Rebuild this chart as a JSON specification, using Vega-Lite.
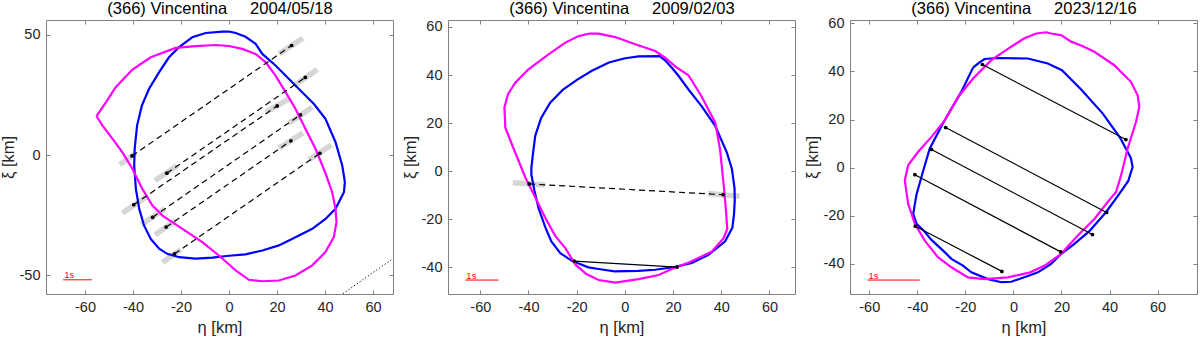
{
  "$schema": "https://vega.github.io/schema/vega-lite/v6.json",
  "padding": {"left": 0, "top": -1, "right": 0, "bottom": 0},
  "background": "white",
  "spacing": 55,
  "bounds": "flush",
  "config": {
    "view": {"stroke": "#808080", "strokeWidth": 1},
    "font": "Liberation Sans",
    "axis": {
      "grid": false, "domain": false, "tickColor": "#808080", "tickSize": -4,
      "labelFontSize": 14.5, "labelColor": "#262626", "labelFont": "Liberation Sans", "labelPadding": 10,
      "titleFontSize": 16.5, "titleFontWeight": "normal", "titleColor": "#262626", "titleFont": "Liberation Sans",
      "labelExpr": "datum.value < 0 ? '-' + abs(datum.value) : '' + datum.value"
    },
    "axisBottom": {"titlePadding": 6},
    "axisLeft": {"titlePadding": 2.5},
    "axisTop": {"titlePadding": 6.5, "titleColor": "#000000", "titleBaseline": "alphabetic", "titleFontSize": 16.5}
  },
  "datasets": {
    "b1": [
      {"x":0,"y":51.4},{"x":2.8,"y":50.8},{"x":6.9,"y":49.2},{"x":11.1,"y":46.3},{"x":13.9,"y":42.1},{"x":19.4,"y":37.3},{"x":25,"y":31.7},{"x":30.5,"y":26.2},{"x":35.4,"y":21.3},{"x":40.2,"y":15.1},{"x":44.4,"y":5.4},{"x":47.2,"y":-4.3},{"x":48.3,"y":-11.2},{"x":47.9,"y":-15.4},{"x":44.4,"y":-22.3},{"x":40.2,"y":-26.5},{"x":34.7,"y":-30.6},{"x":27.7,"y":-34.1},{"x":20.8,"y":-37.5},{"x":13.9,"y":-39.6},{"x":6.9,"y":-41.2},{"x":0,"y":-41.8},{"x":-6.9,"y":-42.6},{"x":-13.9,"y":-43},{"x":-20.8,"y":-42.4},{"x":-25.7,"y":-41},{"x":-29.1,"y":-38.9},{"x":-32.6,"y":-34.8},{"x":-35.4,"y":-29.2},{"x":-37.4,"y":-22.3},{"x":-38.8,"y":-14},{"x":-39.5,"y":-4.3},{"x":-39.3,"y":2.6},{"x":-38.3,"y":12.3},{"x":-36.3,"y":20.6},{"x":-33.3,"y":27.6},{"x":-29.1,"y":34.5},{"x":-25,"y":40.7},{"x":-20.8,"y":44.9},{"x":-15.3,"y":49},{"x":-9.7,"y":50.8},{"x":-2.8,"y":51.4},{"x":0,"y":51.4}
    ],
    "m1": [
      {"x":-55.2,"y":16.2},{"x":-51.3,"y":22},{"x":-47.2,"y":28.3},{"x":-40.2,"y":35.6},{"x":-32.6,"y":40.7},{"x":-22.2,"y":44.6},{"x":-13.9,"y":45.3},{"x":-5.5,"y":45.8},{"x":0,"y":45.4},{"x":5.5,"y":44.2},{"x":11.1,"y":42.1},{"x":15.3,"y":38.6},{"x":19.4,"y":33.1},{"x":23.6,"y":26.2},{"x":27.7,"y":19.3},{"x":31.9,"y":10.9},{"x":36.1,"y":2.6},{"x":40.2,"y":-7.5},{"x":43,"y":-15.4},{"x":44.4,"y":-22.3},{"x":44.8,"y":-27.8},{"x":43.7,"y":-34},{"x":40.2,"y":-40.3},{"x":34.7,"y":-45.8},{"x":27.7,"y":-50},{"x":20.8,"y":-52.1},{"x":13.9,"y":-52.4},{"x":8.3,"y":-51.8},{"x":2.8,"y":-47.9},{"x":-4.2,"y":-41.7},{"x":-11.1,"y":-36.1},{"x":-19.4,"y":-30.6},{"x":-27.7,"y":-25.1},{"x":-31.9,"y":-20.9},{"x":-36.1,"y":-14},{"x":-40.2,"y":-5.7},{"x":-44.4,"y":1.2},{"x":-48.5,"y":6.8},{"x":-52.7,"y":12.3},{"x":-55.2,"y":16.2}
    ],
    "c1": [
      {"x":-40.4,"y":-0.3,"x2":26.1,"y2":45.6,"d":1},
      {"x":-25.9,"y":-7.5,"x2":31.8,"y2":32.3,"d":1},
      {"x":-39.7,"y":-20.6,"x2":20.1,"y2":20.5,"d":1},
      {"x":-31.8,"y":-25.8,"x2":29.8,"y2":16.8,"d":1},
      {"x":-26.2,"y":-29.9,"x2":25.8,"y2":6.0,"d":1},
      {"x":-22.7,"y":-41.0,"x2":37.9,"y2":0.8,"d":1}
    ],
    "g1": [
      {"x":-45.5,"y":-3.9,"x2":-38.8,"y2":0.8},
      {"x":20.8,"y":42.1,"x2":30.8,"y2":48.6},
      {"x":-30.8,"y":-10.5,"x2":-21.5,"y2":-4.3},
      {"x":27,"y":28.9,"x2":36.8,"y2":35.6},
      {"x":-44.4,"y":-24,"x2":-34.7,"y2":-17.5},
      {"x":15.3,"y":17.9,"x2":25,"y2":23.4},
      {"x":-36.5,"y":-28.9,"x2":-26.8,"y2":-22.3},
      {"x":25,"y":13.4,"x2":34.7,"y2":19.9},
      {"x":-30.8,"y":-33.1,"x2":-22.2,"y2":-27.1},
      {"x":20.8,"y":2.9,"x2":30.8,"y2":9.3},
      {"x":-27.7,"y":-44.5,"x2":-20.1,"y2":-39.3},
      {"x":33.3,"y":-1.9,"x2":42.7,"y2":4.3}
    ],
    "s1": [{"x":-69.1,"x2":-57.1,"y":-51.8,"t":"1s"}],
    "dt1": [{"x":44,"y":-60,"x2":72,"y2":-40.4}],
    "b2": [
      {"x":0.1,"y":47},{"x":5.7,"y":47.8},{"x":14.5,"y":47.9},{"x":16.7,"y":46.1},{"x":19.5,"y":43},{"x":22.3,"y":39.6},{"x":26.4,"y":34},{"x":31.9,"y":27},{"x":37.5,"y":18.8},{"x":42.3,"y":7.8},{"x":44.4,"y":1},{"x":45.5,"y":-7},{"x":45.6,"y":-12},{"x":45.3,"y":-17.9},{"x":44.6,"y":-23.5},{"x":41.6,"y":-29.2},{"x":34.7,"y":-34.8},{"x":27.8,"y":-38.2},{"x":20.9,"y":-39.8},{"x":12.6,"y":-41},{"x":5.7,"y":-41.5},{"x":-4.3,"y":-41.7},{"x":-10.9,"y":-40.7},{"x":-15.1,"y":-40},{"x":-19.2,"y":-38.4},{"x":-22,"y":-37.3},{"x":-26.8,"y":-34.1},{"x":-30.5,"y":-29.2},{"x":-33,"y":-23.4},{"x":-35.8,"y":-15.5},{"x":-37.5,"y":-8.2},{"x":-38.8,"y":-1.5},{"x":-38.8,"y":1.5},{"x":-38.3,"y":6},{"x":-37.2,"y":14.7},{"x":-34.8,"y":22},{"x":-31,"y":28.5},{"x":-25.8,"y":33.8},{"x":-19.9,"y":38},{"x":-13.7,"y":41.8},{"x":-6.6,"y":45.2},{"x":0.1,"y":47}
    ],
    "m2": [
      {"x":-15.1,"y":57.2},{"x":-10.9,"y":57.2},{"x":-4,"y":55.8},{"x":4.3,"y":52.8},{"x":12.6,"y":50},{"x":16.7,"y":47.2},{"x":21,"y":43.5},{"x":26.4,"y":39.9},{"x":31.9,"y":31},{"x":37.5,"y":20.2},{"x":39.5,"y":9},{"x":40.9,"y":-4.7},{"x":41.9,"y":-15.8},{"x":42.5,"y":-24},{"x":40.9,"y":-28},{"x":36,"y":-33.5},{"x":33.3,"y":-34.8},{"x":27,"y":-37.8},{"x":19.5,"y":-40.7},{"x":14,"y":-43.2},{"x":5.7,"y":-44.9},{"x":-4,"y":-46.4},{"x":-10.9,"y":-45.3},{"x":-16,"y":-42.8},{"x":-20.6,"y":-38.8},{"x":-24.7,"y":-32},{"x":-28.9,"y":-26.9},{"x":-33,"y":-19.5},{"x":-38.6,"y":-8},{"x":-41.3,"y":-2.6},{"x":-46.9,"y":11.2},{"x":-49.6,"y":18.1},{"x":-50,"y":26.5},{"x":-48.5,"y":32},{"x":-45.5,"y":36.8},{"x":-40,"y":42.4},{"x":-31.7,"y":48.6},{"x":-24.7,"y":53.5},{"x":-19.2,"y":56.2},{"x":-15.1,"y":57.2}
    ],
    "c2": [
      {"x":-39.7,"y":-5.3,"x2":40.8,"y2":-9.8,"d":1},
      {"x":-21,"y":-37.4,"x2":21.7,"y2":-39.9,"d":0}
    ],
    "g2": [
      {"x":-46.5,"y":-4.8,"x2":-33,"y2":-5.7},
      {"x":34.4,"y":-9.3,"x2":47.6,"y2":-10.4}
    ],
    "s2": [{"x":-66.2,"x2":-52.4,"y":-45.3,"t":"1s"}],
    "b3": [
      {"x":-16.8,"y":41.6},{"x":-14.5,"y":43.5},{"x":-12,"y":45.2},{"x":-6.4,"y":45.6},{"x":6,"y":45.4},{"x":14.3,"y":43.3},{"x":20.2,"y":40.5},{"x":28.2,"y":32.5},{"x":37.2,"y":22.5},{"x":44.5,"y":12.3},{"x":48.9,"y":4},{"x":49.6,"y":0.3},{"x":47.8,"y":-5.5},{"x":43.4,"y":-11.8},{"x":38.5,"y":-18.5},{"x":31.5,"y":-26.5},{"x":25,"y":-32},{"x":19.9,"y":-35.8},{"x":15.7,"y":-40},{"x":10.2,"y":-43.5},{"x":6,"y":-45},{"x":-0.9,"y":-47.4},{"x":-5,"y":-47.6},{"x":-10.6,"y":-46.3},{"x":-17.5,"y":-43.5},{"x":-21,"y":-40.7},{"x":-25.8,"y":-37.9},{"x":-28.6,"y":-35.1},{"x":-34.1,"y":-30},{"x":-37,"y":-26.5},{"x":-40.3,"y":-23.3},{"x":-41.7,"y":-19.2},{"x":-40.3,"y":-11},{"x":-37.6,"y":-1.5},{"x":-34.8,"y":8},{"x":-29.3,"y":18.5},{"x":-21.7,"y":31.5},{"x":-16.8,"y":41.6}
    ],
    "m3": [
      {"x":9.5,"y":55.8},{"x":13.6,"y":56.3},{"x":15.7,"y":55.8},{"x":20,"y":55},{"x":24,"y":52.4},{"x":28.2,"y":50.8},{"x":33.7,"y":48.2},{"x":42,"y":42.6},{"x":48.9,"y":35.7},{"x":51.7,"y":30.1},{"x":52.4,"y":25.3},{"x":51,"y":19},{"x":47.5,"y":7.9},{"x":44.8,"y":-3.2},{"x":42.7,"y":-10.1},{"x":39.2,"y":-14.3},{"x":33.7,"y":-21.3},{"x":26.8,"y":-28.2},{"x":19.9,"y":-35.8},{"x":13,"y":-40.7},{"x":7,"y":-43.5},{"x":-2.3,"y":-45.6},{"x":-12,"y":-46.3},{"x":-18.9,"y":-45.6},{"x":-25.8,"y":-41.4},{"x":-31.4,"y":-37.2},{"x":-36.9,"y":-30.3},{"x":-41,"y":-23.3},{"x":-43.8,"y":-15},{"x":-45.2,"y":-5.3},{"x":-43.8,"y":1},{"x":-39.7,"y":6.5},{"x":-34.1,"y":12.8},{"x":-28.6,"y":19.7},{"x":-23,"y":29.4},{"x":-16.8,"y":37.1},{"x":-9.2,"y":44.7},{"x":-0.9,"y":50.3},{"x":4.6,"y":53.8},{"x":9.5,"y":55.8}
    ],
    "c3": [
      {"x":-12.9,"y":42.9,"x2":46.8,"y2":11.7,"d":0},
      {"x":-28.2,"y":16.7,"x2":38.8,"y2":-18.6,"d":0},
      {"x":-34.1,"y":7.6,"x2":32.9,"y2":-27.8,"d":0},
      {"x":-41,"y":-2.9,"x2":19.7,"y2":-35,"d":0},
      {"x":-40.8,"y":-24.3,"x2":-4.8,"y2":-43.1,"d":0}
    ],
    "s3": [{"x":-60.7,"x2":-39,"y":-46.7,"t":"1s"}]
  },
  "hconcat": [
    {
      "width": 347, "height": 274,
      "resolve": {"axis": {"x": "independent", "y": "independent"}},
      "layer": [
        {"data": {"name": "g1"}, "mark": {"type": "rule", "color": "#d6d6d6", "strokeWidth": 5.5, "clip": true},
         "encoding": {"x": {"field": "x", "type": "quantitative", "scale": {"domain": [-76.25, 68.35], "nice": false, "zero": false}, "axis": null},
                      "y": {"field": "y", "type": "quantitative", "scale": {"domain": [-57.7, 56.2], "nice": false, "zero": false}, "axis": null},
                      "x2": {"field": "x2"}, "y2": {"field": "y2"}}},
        {"data": {"name": "b1"}, "mark": {"type": "line", "color": "#0000ff", "strokeWidth": 2.2, "clip": true},
         "encoding": {"x": {"field": "x", "type": "quantitative", "scale": {"domain": [-76.25, 68.35], "nice": false, "zero": false}, "axis": {"orient": "bottom", "values": [-60,-40,-20,0,20,40,60], "title": "η [km]"}},
                      "y": {"field": "y", "type": "quantitative", "scale": {"domain": [-57.7, 56.2], "nice": false, "zero": false}, "axis": {"orient": "left", "values": [-50,0,50], "title": "ξ [km]"}},
                      "order": {"value": null}}},
        {"data": {"name": "m1"}, "mark": {"type": "line", "color": "#ff00ff", "strokeWidth": 2.2, "clip": true},
         "encoding": {"x": {"field": "x", "type": "quantitative", "scale": {"domain": [-76.25, 68.35], "nice": false, "zero": false}, "axis": {"orient": "top", "values": [-60,-40,-20,0,20,40,60], "labels": false, "title": "(366) Vincentina\u00a0\u00a0\u00a0\u00a0\u00a02004/05/18"}},
                      "y": {"field": "y", "type": "quantitative", "scale": {"domain": [-57.7, 56.2], "nice": false, "zero": false}, "axis": {"orient": "right", "values": [-50,0,50], "labels": false, "title": null}},
                      "order": {"value": null}}},
        {"data": {"name": "c1"}, "mark": {"type": "rule", "color": "#000000", "strokeWidth": 1.2, "strokeDash": [6, 4], "clip": true},
         "encoding": {"x": {"field": "x", "type": "quantitative", "scale": {"domain": [-76.25, 68.35], "nice": false, "zero": false}, "axis": null},
                      "y": {"field": "y", "type": "quantitative", "scale": {"domain": [-57.7, 56.2], "nice": false, "zero": false}, "axis": null},
                      "x2": {"field": "x2"}, "y2": {"field": "y2"}}},
        {"data": {"name": "c1"}, "mark": {"type": "point", "filled": true, "color": "#000000", "size": 14, "opacity": 1},
         "encoding": {"x": {"field": "x", "type": "quantitative", "scale": {"domain": [-76.25, 68.35], "nice": false, "zero": false}, "axis": null},
                      "y": {"field": "y", "type": "quantitative", "scale": {"domain": [-57.7, 56.2], "nice": false, "zero": false}, "axis": null}}},
        {"data": {"name": "c1"}, "mark": {"type": "point", "filled": true, "color": "#000000", "size": 14, "opacity": 1},
         "encoding": {"x": {"field": "x2", "type": "quantitative", "scale": {"domain": [-76.25, 68.35], "nice": false, "zero": false}, "axis": null},
                      "y": {"field": "y2", "type": "quantitative", "scale": {"domain": [-57.7, 56.2], "nice": false, "zero": false}, "axis": null}}},
        {"data": {"name": "dt1"}, "mark": {"type": "rule", "color": "#000000", "strokeWidth": 1, "strokeDash": [1.2, 2.2], "clip": true},
         "encoding": {"x": {"field": "x", "type": "quantitative", "scale": {"domain": [-76.25, 68.35], "nice": false, "zero": false}, "axis": null},
                      "y": {"field": "y", "type": "quantitative", "scale": {"domain": [-57.7, 56.2], "nice": false, "zero": false}, "axis": null},
                      "x2": {"field": "x2"}, "y2": {"field": "y2"}}},
        {"data": {"name": "s1"}, "mark": {"type": "rule", "color": "#ff0000", "strokeWidth": 1},
         "encoding": {"x": {"field": "x", "type": "quantitative", "scale": {"domain": [-76.25, 68.35], "nice": false, "zero": false}, "axis": null},
                      "y": {"field": "y", "type": "quantitative", "scale": {"domain": [-57.7, 56.2], "nice": false, "zero": false}, "axis": null},
                      "x2": {"field": "x2"}}},
        {"data": {"name": "s1"}, "mark": {"type": "text", "color": "#ff0000", "fontSize": 9.5, "align": "left", "baseline": "alphabetic", "dx": 1, "dy": -1.5},
         "encoding": {"x": {"field": "x", "type": "quantitative", "scale": {"domain": [-76.25, 68.35], "nice": false, "zero": false}, "axis": null},
                      "y": {"field": "y", "type": "quantitative", "scale": {"domain": [-57.7, 56.2], "nice": false, "zero": false}, "axis": null},
                      "text": {"field": "t"}}}
      ]
    },
    {
      "width": 347, "height": 274,
      "resolve": {"axis": {"x": "independent", "y": "independent"}},
      "layer": [
        {"data": {"name": "g2"}, "mark": {"type": "rule", "color": "#d6d6d6", "strokeWidth": 5.5, "clip": true},
         "encoding": {"x": {"field": "x", "type": "quantitative", "scale": {"domain": [-73.4, 70.6], "nice": false, "zero": false}, "axis": null},
                      "y": {"field": "y", "type": "quantitative", "scale": {"domain": [-51.1, 62.9], "nice": false, "zero": false}, "axis": null},
                      "x2": {"field": "x2"}, "y2": {"field": "y2"}}},
        {"data": {"name": "b2"}, "mark": {"type": "line", "color": "#0000ff", "strokeWidth": 2.2, "clip": true},
         "encoding": {"x": {"field": "x", "type": "quantitative", "scale": {"domain": [-73.4, 70.6], "nice": false, "zero": false}, "axis": {"orient": "bottom", "values": [-60,-40,-20,0,20,40,60], "title": "η [km]"}},
                      "y": {"field": "y", "type": "quantitative", "scale": {"domain": [-51.1, 62.9], "nice": false, "zero": false}, "axis": {"orient": "left", "values": [-40,-20,0,20,40,60], "title": "ξ [km]"}},
                      "order": {"value": null}}},
        {"data": {"name": "m2"}, "mark": {"type": "line", "color": "#ff00ff", "strokeWidth": 2.2, "clip": true},
         "encoding": {"x": {"field": "x", "type": "quantitative", "scale": {"domain": [-73.4, 70.6], "nice": false, "zero": false}, "axis": {"orient": "top", "values": [-60,-40,-20,0,20,40,60], "labels": false, "title": "(366) Vincentina\u00a0\u00a0\u00a0\u00a0\u00a02009/02/03"}},
                      "y": {"field": "y", "type": "quantitative", "scale": {"domain": [-51.1, 62.9], "nice": false, "zero": false}, "axis": {"orient": "right", "values": [-40,-20,0,20,40,60], "labels": false, "title": null}},
                      "order": {"value": null}}},
        {"data": {"name": "c2"}, "transform": [{"filter": "datum.d == 1"}], "mark": {"type": "rule", "color": "#000000", "strokeWidth": 1.2, "strokeDash": [6, 4], "clip": true},
         "encoding": {"x": {"field": "x", "type": "quantitative", "scale": {"domain": [-73.4, 70.6], "nice": false, "zero": false}, "axis": null},
                      "y": {"field": "y", "type": "quantitative", "scale": {"domain": [-51.1, 62.9], "nice": false, "zero": false}, "axis": null},
                      "x2": {"field": "x2"}, "y2": {"field": "y2"}}},
        {"data": {"name": "c2"}, "transform": [{"filter": "datum.d == 0"}], "mark": {"type": "rule", "color": "#000000", "strokeWidth": 1.2, "clip": true},
         "encoding": {"x": {"field": "x", "type": "quantitative", "scale": {"domain": [-73.4, 70.6], "nice": false, "zero": false}, "axis": null},
                      "y": {"field": "y", "type": "quantitative", "scale": {"domain": [-51.1, 62.9], "nice": false, "zero": false}, "axis": null},
                      "x2": {"field": "x2"}, "y2": {"field": "y2"}}},
        {"data": {"name": "c2"}, "mark": {"type": "point", "filled": true, "color": "#000000", "size": 14, "opacity": 1},
         "encoding": {"x": {"field": "x", "type": "quantitative", "scale": {"domain": [-73.4, 70.6], "nice": false, "zero": false}, "axis": null},
                      "y": {"field": "y", "type": "quantitative", "scale": {"domain": [-51.1, 62.9], "nice": false, "zero": false}, "axis": null}}},
        {"data": {"name": "c2"}, "mark": {"type": "point", "filled": true, "color": "#000000", "size": 14, "opacity": 1},
         "encoding": {"x": {"field": "x2", "type": "quantitative", "scale": {"domain": [-73.4, 70.6], "nice": false, "zero": false}, "axis": null},
                      "y": {"field": "y2", "type": "quantitative", "scale": {"domain": [-51.1, 62.9], "nice": false, "zero": false}, "axis": null}}},
        {"data": {"name": "s2"}, "mark": {"type": "rule", "color": "#ff0000", "strokeWidth": 1},
         "encoding": {"x": {"field": "x", "type": "quantitative", "scale": {"domain": [-73.4, 70.6], "nice": false, "zero": false}, "axis": null},
                      "y": {"field": "y", "type": "quantitative", "scale": {"domain": [-51.1, 62.9], "nice": false, "zero": false}, "axis": null},
                      "x2": {"field": "x2"}}},
        {"data": {"name": "s2"}, "mark": {"type": "text", "color": "#ff0000", "fontSize": 9.5, "align": "left", "baseline": "alphabetic", "dx": 1, "dy": -1.5},
         "encoding": {"x": {"field": "x", "type": "quantitative", "scale": {"domain": [-73.4, 70.6], "nice": false, "zero": false}, "axis": null},
                      "y": {"field": "y", "type": "quantitative", "scale": {"domain": [-51.1, 62.9], "nice": false, "zero": false}, "axis": null},
                      "text": {"field": "t"}}}
      ]
    },
    {
      "width": 347, "height": 274,
      "resolve": {"axis": {"x": "independent", "y": "independent"}},
      "layer": [
        {"data": {"name": "b3"}, "mark": {"type": "line", "color": "#0000ff", "strokeWidth": 2.2, "clip": true},
         "encoding": {"x": {"field": "x", "type": "quantitative", "scale": {"domain": [-68, 76.4], "nice": false, "zero": false}, "axis": {"orient": "bottom", "values": [-60,-40,-20,0,20,40,60], "title": "η [km]"}},
                      "y": {"field": "y", "type": "quantitative", "scale": {"domain": [-52.5, 61.4], "nice": false, "zero": false}, "axis": {"orient": "left", "values": [-40,-20,0,20,40,60], "title": "ξ [km]"}},
                      "order": {"value": null}}},
        {"data": {"name": "m3"}, "mark": {"type": "line", "color": "#ff00ff", "strokeWidth": 2.2, "clip": true},
         "encoding": {"x": {"field": "x", "type": "quantitative", "scale": {"domain": [-68, 76.4], "nice": false, "zero": false}, "axis": {"orient": "top", "values": [-60,-40,-20,0,20,40,60], "labels": false, "title": "(366) Vincentina\u00a0\u00a0\u00a0\u00a0\u00a02023/12/16"}},
                      "y": {"field": "y", "type": "quantitative", "scale": {"domain": [-52.5, 61.4], "nice": false, "zero": false}, "axis": {"orient": "right", "values": [-40,-20,0,20,40,60], "labels": false, "title": null}},
                      "order": {"value": null}}},
        {"data": {"name": "c3"}, "mark": {"type": "rule", "color": "#000000", "strokeWidth": 1.2, "clip": true},
         "encoding": {"x": {"field": "x", "type": "quantitative", "scale": {"domain": [-68, 76.4], "nice": false, "zero": false}, "axis": null},
                      "y": {"field": "y", "type": "quantitative", "scale": {"domain": [-52.5, 61.4], "nice": false, "zero": false}, "axis": null},
                      "x2": {"field": "x2"}, "y2": {"field": "y2"}}},
        {"data": {"name": "c3"}, "mark": {"type": "point", "filled": true, "color": "#000000", "size": 14, "opacity": 1},
         "encoding": {"x": {"field": "x", "type": "quantitative", "scale": {"domain": [-68, 76.4], "nice": false, "zero": false}, "axis": null},
                      "y": {"field": "y", "type": "quantitative", "scale": {"domain": [-52.5, 61.4], "nice": false, "zero": false}, "axis": null}}},
        {"data": {"name": "c3"}, "mark": {"type": "point", "filled": true, "color": "#000000", "size": 14, "opacity": 1},
         "encoding": {"x": {"field": "x2", "type": "quantitative", "scale": {"domain": [-68, 76.4], "nice": false, "zero": false}, "axis": null},
                      "y": {"field": "y2", "type": "quantitative", "scale": {"domain": [-52.5, 61.4], "nice": false, "zero": false}, "axis": null}}},
        {"data": {"name": "s3"}, "mark": {"type": "rule", "color": "#ff0000", "strokeWidth": 1},
         "encoding": {"x": {"field": "x", "type": "quantitative", "scale": {"domain": [-68, 76.4], "nice": false, "zero": false}, "axis": null},
                      "y": {"field": "y", "type": "quantitative", "scale": {"domain": [-52.5, 61.4], "nice": false, "zero": false}, "axis": null},
                      "x2": {"field": "x2"}}},
        {"data": {"name": "s3"}, "mark": {"type": "text", "color": "#ff0000", "fontSize": 9.5, "align": "left", "baseline": "alphabetic", "dx": 1, "dy": -1.5},
         "encoding": {"x": {"field": "x", "type": "quantitative", "scale": {"domain": [-68, 76.4], "nice": false, "zero": false}, "axis": null},
                      "y": {"field": "y", "type": "quantitative", "scale": {"domain": [-52.5, 61.4], "nice": false, "zero": false}, "axis": null},
                      "text": {"field": "t"}}}
      ]
    }
  ]
}
